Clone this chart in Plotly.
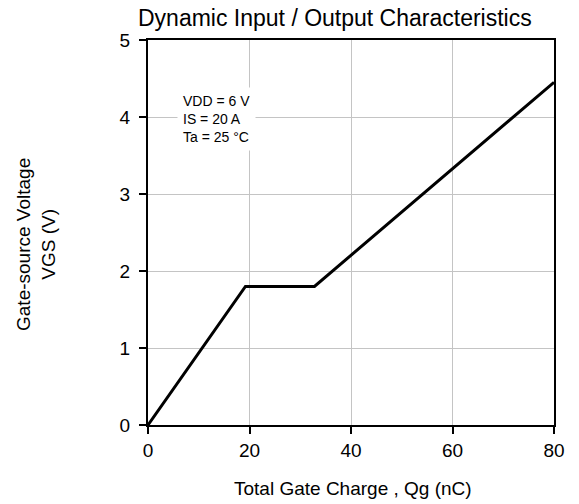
import plotly.graph_objects as go

qg = [0, 19.2, 32.8, 80]
vgs = [0, 1.8, 1.8, 4.45]
x_ticks = [0, 20, 40, 60, 80]
y_ticks = [0, 1, 2, 3, 4, 5]

FONT = "Arial, Liberation Sans, sans-serif"

fig = go.Figure()
fig.add_trace(go.Scatter(x=qg, y=vgs, mode="lines",
                         line=dict(color="black", width=3), showlegend=False))

axis_common = dict(showgrid=True, gridcolor="#c4c4c4", gridwidth=1,
                   showline=True, linecolor="black", linewidth=2, mirror=True,
                   ticks="outside", ticklen=7, tickcolor="black", tickwidth=1.5,
                   tickfont=dict(size=19, family=FONT), zeroline=False)

fig.update_layout(
    width=579, height=504,
    margin=dict(l=148, r=25, t=40, b=79),
    paper_bgcolor="white", plot_bgcolor="white",
    font=dict(family=FONT, color="black"),
    xaxis=dict(range=[0, 80], tickvals=x_ticks, **axis_common),
    yaxis=dict(range=[0, 5], tickvals=y_ticks, ticklabelstandoff=5, **axis_common),
    annotations=[
        dict(text="Dynamic Input / Output Characteristics", xref="paper", yref="paper",
             x=0.46, y=1.0, yshift=22, xanchor="center", yanchor="middle", showarrow=False,
             font=dict(size=23, family=FONT)),
        dict(text="Total Gate Charge , Qg (nC)", xref="paper", yref="paper",
             x=0.505, y=0, yshift=-63, xanchor="center", yanchor="middle", showarrow=False,
             font=dict(size=19, family=FONT)),
        dict(text="Gate-source Voltage<br>VGS (V)", xref="paper", yref="paper",
             x=-0.276, y=0.47, xanchor="center", yanchor="middle", textangle=-90, showarrow=False,
             font=dict(size=19, family=FONT)),
        dict(text="VDD = 6 V<br>IS = 20 A<br>Ta = 25 °C", xref="x", yref="y",
             x=5.8, y=3.97, xanchor="left", yanchor="middle", align="left", showarrow=False,
             bgcolor="white", borderpad=5, font=dict(size=14, family=FONT)),
    ],
)

fig.write_html("out.html", config={"displayModeBar": False},
               post_script="document.body.style.margin='0';")
